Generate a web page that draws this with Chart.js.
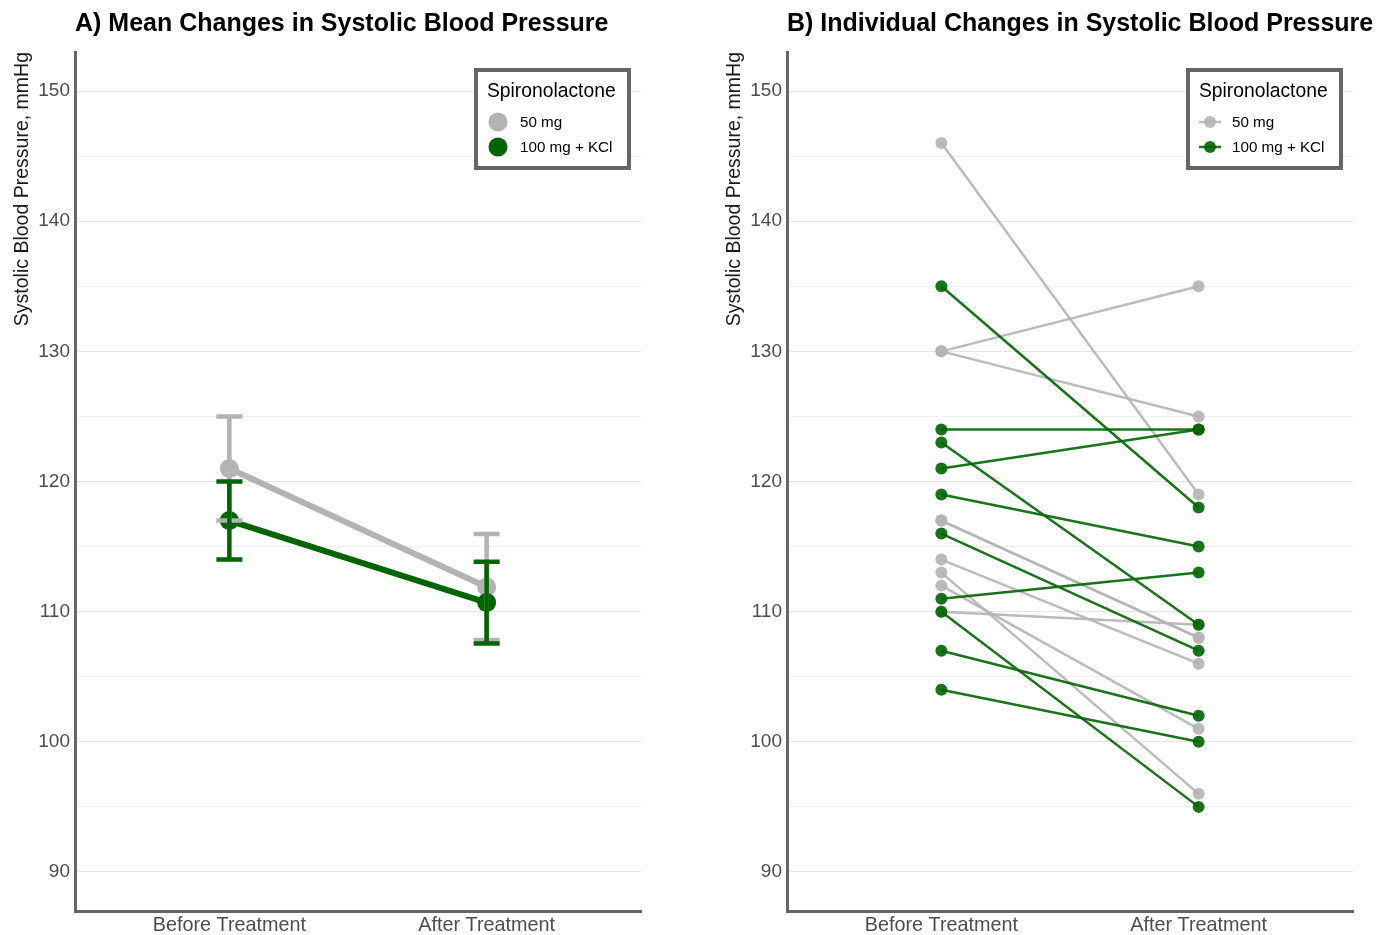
<!DOCTYPE html>
<html>
<head>
<meta charset="utf-8">
<script src="https://cdn.jsdelivr.net/npm/chart.js@4.4.1/dist/chart.umd.min.js"></script>
<style>
  html, body { margin: 0; padding: 0; background: #ffffff; }
  body { width: 1379px; height: 935px; position: relative; overflow: hidden; }
  canvas { position: absolute; top: 0; }
  #cA { left: 0; }
  #cB { left: 712px; }
</style>
</head>
<body>
<canvas id="cA" width="712" height="935"></canvas>
<canvas id="cB" width="667" height="935"></canvas>
<script>
// ---------- data ----------
const categories = ['Before Treatment', 'After Treatment'];
const yTickValues = [90, 95, 100, 105, 110, 115, 120, 125, 130, 135, 140, 145, 150];
const legendTitle = 'Spironolactone';
const seriesNames = ['50 mg', '100 mg + KCl'];
const titleA = 'A) Mean Changes in Systolic Blood Pressure';
const titleB = 'B) Individual Changes in Systolic Blood Pressure';
const yAxisTitle = 'Systolic Blood Pressure, mmHg';

// Panel A: means and standard errors
const meanGray  = [121.0, 111.9];
const seGray    = [4.0, 4.07];
const meanGreen = [117.0, 110.7];
const seGreen   = [3.0, 3.14];

// Panel B: individual patients (before, after)
const grayBefore  = [146, 130, 130, 117, 117, 114, 113, 112, 110];
const grayAfter   = [119, 135, 125, 108, 108, 106, 96, 101, 109];
const greenBefore = [135, 124, 123, 121, 119, 116, 111, 110, 107, 104];
const greenAfter  = [118, 124, 109, 124, 115, 107, 113, 95, 102, 100];

// ---------- styles ----------
const FONT = "'Liberation Sans', Arial, Helvetica, sans-serif";
const GRAY_A = '#b3b3b3';
const GREEN_A = '#006400';
const GRAY_B = 'rgba(180,180,180,0.9)';
const GREEN_B = 'rgba(0,100,0,0.9)';
const AXIS_COLOR = '#666666';

function baseOptions() {
  return {
    responsive: false,
    animation: false,
    events: [],
    layout: { padding: { top: 52, left: 0, bottom: 0, right: 0 }, autoPadding: false },
    plugins: { legend: { display: false }, tooltip: { enabled: false }, title: { display: false } },
    scales: {
      x: {
        type: 'linear', min: 0.4, max: 2.6,
        afterBuildTicks: s => { s.ticks = categories.map((c, i) => ({ value: i + 1 })); },
        afterFit: s => { s.height = 24; },
        ticks: {
          callback: v => categories[v - 1] || '',
          font: { family: FONT, size: 19.8 }, color: '#4d4d4d', padding: 3, maxRotation: 0, autoSkip: false
        },
        grid: { display: false, drawTicks: false },
        border: { display: true, color: AXIS_COLOR, width: 3 }
      },
      y: {
        type: 'linear', min: 87, max: 153,
        afterBuildTicks: s => { s.ticks = yTickValues.map(v => ({ value: v })); },
        afterFit: s => { s.width = 75; },
        ticks: {
          callback: v => (v % 10 === 0 ? String(v) : ''),
          font: { family: FONT, size: 19 }, color: '#4d4d4d', padding: 5, autoSkip: false
        },
        grid: {
          drawTicks: false,
          color: ctx => (ctx.tick && ctx.tick.value % 10 === 0 ? '#e4e4e4' : '#f0f0f0'),
          lineWidth: 1
        },
        border: { display: true, color: AXIS_COLOR, width: 3 }
      }
    }
  };
}

function textPlugin(title) {
  return {
    id: 'texts',
    afterDraw(chart) {
      const ctx = chart.ctx, a = chart.chartArea;
      ctx.save();
      ctx.fillStyle = '#000';
      ctx.font = 'bold 25px ' + FONT;
      ctx.textAlign = 'left';
      ctx.textBaseline = 'alphabetic';
      ctx.fillText(title, a.left, 31);
      // y axis title, aligned to top of panel
      ctx.translate(28, a.top);
      ctx.rotate(-Math.PI / 2);
      ctx.font = '19.5px ' + FONT;
      ctx.fillStyle = '#1a1a1a';
      ctx.textAlign = 'right';
      ctx.fillText(yAxisTitle, 0, 0);
      ctx.restore();
    }
  };
}

function legendPlugin(style) {
  return {
    id: 'boxLegend',
    afterDraw(chart) {
      const ctx = chart.ctx, a = chart.chartArea;
      const w = 153, h = 98;
      const x0 = a.right - 12 - w, y0 = a.top + 18;
      const colors = style === 'A' ? [GRAY_A, GREEN_A] : [GRAY_B, GREEN_B];
      ctx.save();
      ctx.fillStyle = '#fff';
      ctx.fillRect(x0, y0, w, h);
      ctx.lineWidth = 4;
      ctx.strokeStyle = AXIS_COLOR;
      ctx.strokeRect(x0, y0, w, h);
      ctx.fillStyle = '#000';
      ctx.font = '19.3px ' + FONT;
      ctx.textAlign = 'left';
      ctx.textBaseline = 'middle';
      ctx.fillText(legendTitle, x0 + 11, y0 + 22);
      ctx.font = '15.2px ' + FONT;
      seriesNames.forEach((name, i) => {
        const cy = y0 + 52 + i * 25;
        const cx = x0 + 22;
        if (style === 'A') {
          ctx.fillStyle = colors[i];
          ctx.beginPath(); ctx.arc(cx, cy, 9.5, 0, Math.PI * 2); ctx.fill();
        } else {
          ctx.strokeStyle = colors[i]; ctx.lineWidth = 2.5;
          ctx.beginPath(); ctx.moveTo(cx - 11, cy); ctx.lineTo(cx + 11, cy); ctx.stroke();
          ctx.fillStyle = colors[i];
          ctx.beginPath(); ctx.arc(cx, cy, 6, 0, Math.PI * 2); ctx.fill();
        }
        ctx.fillStyle = '#000';
        ctx.fillText(name, x0 + 44, cy + 1);
      });
      ctx.restore();
    }
  };
}

const errorBarPlugin = {
  id: 'errorBars',
  afterDatasetsDraw(chart) {
    const ctx = chart.ctx, xs = chart.scales.x, ys = chart.scales.y;
    const groups = [[meanGray, seGray, GRAY_A], [meanGreen, seGreen, GREEN_A]];
    ctx.save();
    ctx.lineWidth = 4.5;
    ctx.lineCap = 'butt';
    groups.forEach(([m, se, col]) => {
      ctx.strokeStyle = col;
      m.forEach((v, i) => {
        const x = xs.getPixelForValue(i + 1);
        const yt = ys.getPixelForValue(v + se[i]);
        const yb = ys.getPixelForValue(v - se[i]);
        ctx.beginPath();
        ctx.moveTo(x, yt); ctx.lineTo(x, yb);
        ctx.moveTo(x - 13, yt); ctx.lineTo(x + 13, yt);
        ctx.moveTo(x - 13, yb); ctx.lineTo(x + 13, yb);
        ctx.stroke();
      });
    });
    ctx.restore();
  }
};

// ---------- Panel A ----------
const optA = baseOptions();
optA.layout.padding.right = 71;
new Chart(document.getElementById('cA'), {
  type: 'line',
  data: {
    datasets: [
      {
        label: seriesNames[1],
        data: meanGreen.map((v, i) => ({ x: i + 1, y: v })),
        borderColor: GREEN_A, backgroundColor: GREEN_A,
        borderWidth: 6, pointRadius: 9.5, pointBorderWidth: 0, order: 0
      },
      {
        label: seriesNames[0],
        data: meanGray.map((v, i) => ({ x: i + 1, y: v })),
        borderColor: GRAY_A, backgroundColor: GRAY_A,
        borderWidth: 6, pointRadius: 9.5, pointBorderWidth: 0, order: 1
      }
    ]
  },
  options: optA,
  plugins: [errorBarPlugin, textPlugin(titleA), legendPlugin('A')]
});

// ---------- Panel B ----------
const optB = baseOptions();
optB.layout.padding.right = 26;
const dsB = [];
greenBefore.forEach((b, i) => dsB.push({
  label: seriesNames[1],
  data: [{ x: 1, y: b }, { x: 2, y: greenAfter[i] }],
  borderColor: GREEN_B, backgroundColor: GREEN_B,
  borderWidth: 2.5, pointRadius: 6, pointBorderWidth: 0, order: 0
}));
grayBefore.forEach((b, i) => dsB.push({
  label: seriesNames[0],
  data: [{ x: 1, y: b }, { x: 2, y: grayAfter[i] }],
  borderColor: GRAY_B, backgroundColor: GRAY_B,
  borderWidth: 2.5, pointRadius: 6, pointBorderWidth: 0, order: 1
}));
new Chart(document.getElementById('cB'), {
  type: 'line',
  data: { datasets: dsB },
  options: optB,
  plugins: [textPlugin(titleB), legendPlugin('B')]
});
</script>
</body>
</html>
